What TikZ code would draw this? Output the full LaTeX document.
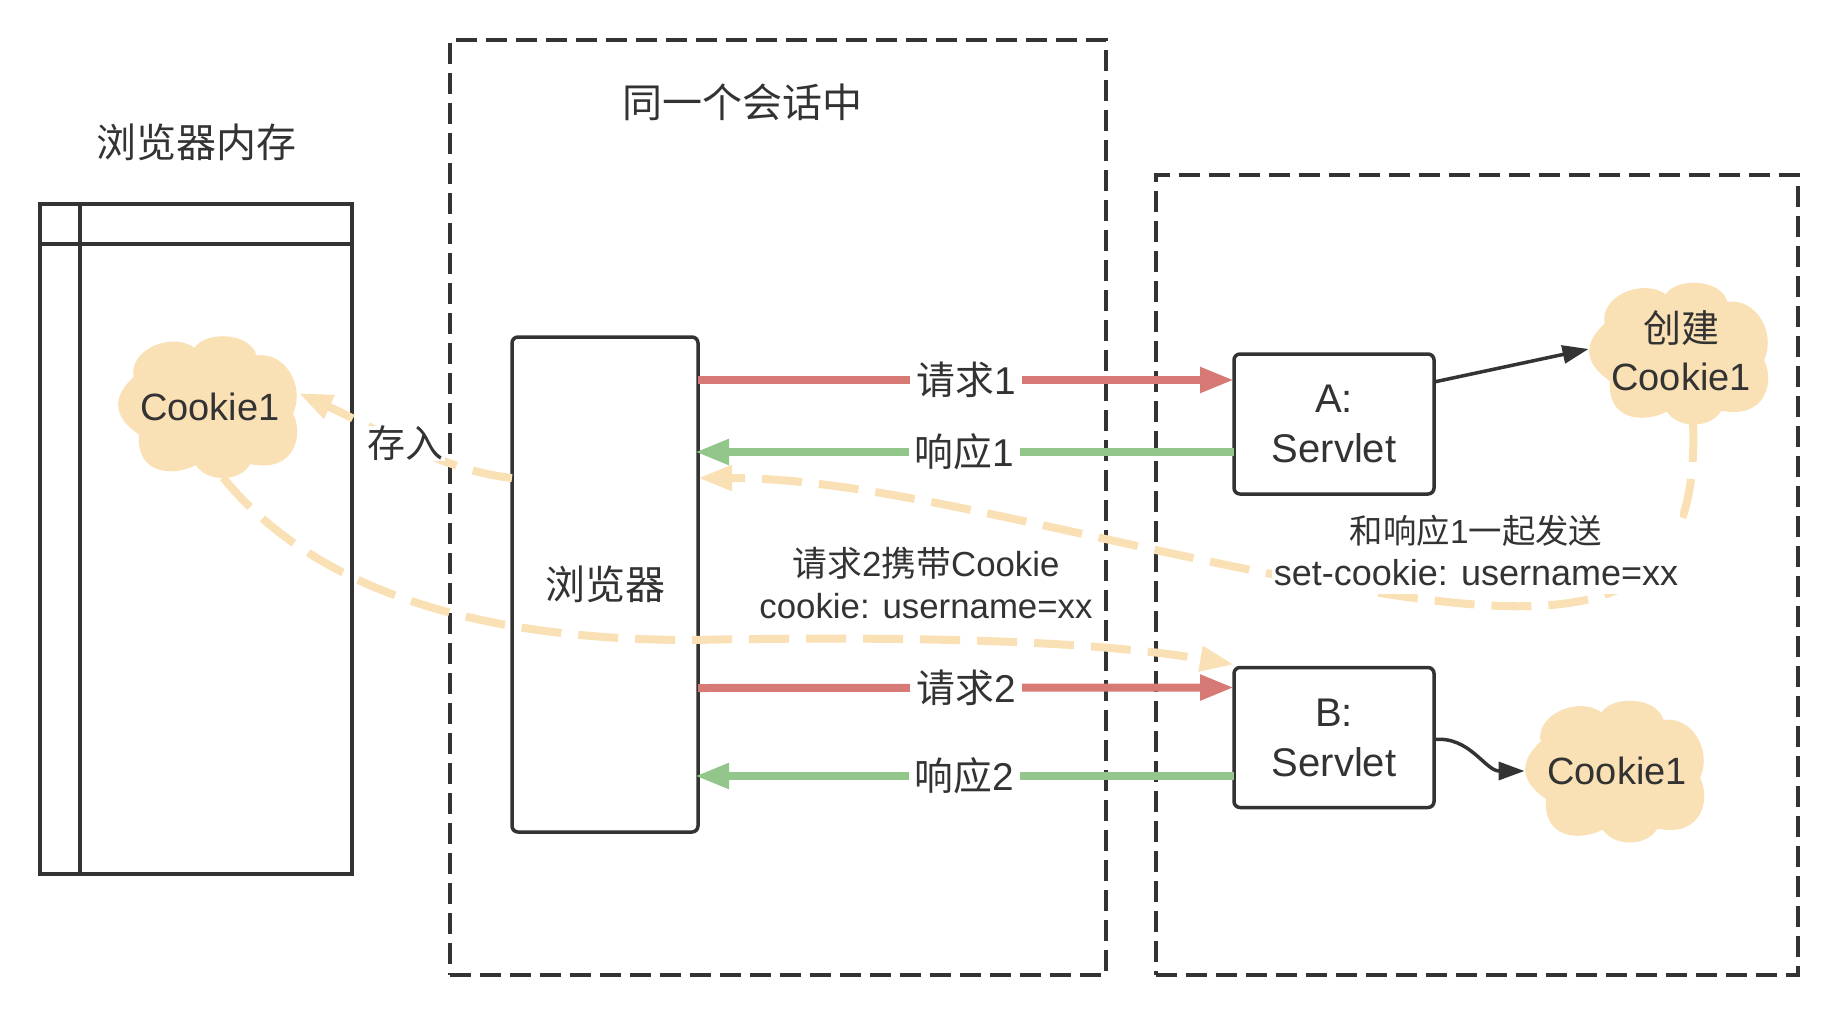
\documentclass[tikz,border=0pt]{standalone}
\usepackage{fontspec}
\setmainfont{Liberation Sans}
\newfontfamily\cjk{Noto Sans CJK SC}
\usetikzlibrary{arrows.meta}

\definecolor{ink}{HTML}{333333}
\definecolor{reqred}{HTML}{D77A76}
\definecolor{respgreen}{HTML}{92C68B}
\definecolor{cream}{HTML}{FAE0B5}

\begin{document}
\begin{tikzpicture}[
    x=0.5pt, y=-0.5pt,
    every node/.style={text=ink, inner sep=0pt, outer sep=0pt},
    bigtext/.style={font=\fontsize{20}{25}\selectfont, align=center},
    smalltext/.style={font=\fontsize{17.4}{21}\selectfont, align=center},
    memorybox/.style={rectangle, draw=ink, line width=1.75pt},
    groupbox/.style={rectangle, draw=ink, line width=1.9pt, dash pattern=on 10.5pt off 4.5pt},
    servletbox/.style={rectangle, draw=ink, line width=1.75pt, rounded corners=3pt, fill=white, bigtext},
    cookiecloud/.style={rectangle, font=\fontsize{19}{24}\selectfont, align=center, minimum width=90.5pt, minimum height=71pt},
    cloudpuff/.pic={\fill[cream, xshift=-45.25pt, yshift=35.5pt, x=0.905pt, y=-0.71pt]
            (42.6,8.7) .. controls (48,-3) and (73,-3) .. (76.8,14.1)
            .. controls (92,11) and (104,35) .. (97,55)
            .. controls (103,70) and (98,97) .. (73.3,90.6)
            .. controls (68,103) and (50,104) .. (43.2,91.3)
            .. controls (30,100) and (10,97) .. (11.9,69.8)
            .. controls (-4,56) and (-2,42) .. (8.9,29.3)
            .. controls (6,10) and (30,-3) .. (42.6,8.7) -- cycle;},
    linelabel/.style={font=\fontsize{19.4}{25}\selectfont, fill=white, inner xsep=3pt, inner ysep=1pt},
    request/.style={-{Triangle[length=17pt,width=12pt]}, reqred, line width=4pt},
    response/.style={-{Triangle[length=17pt,width=12pt]}, respgreen, line width=4pt},
    carry/.style={-{Triangle[length=17pt,width=12pt]}, cream, line width=4pt, dash pattern=on 20pt off 8.5pt},
    create/.style={-{Triangle[length=13pt,width=9pt]}, ink, line width=1.75pt}
]
\useasboundingbox (0,0) rectangle (1840,1022);

\node[groupbox, minimum width=328pt, minimum height=467.5pt] (SessionGroup) at (777.75,507.5) {};
\node[groupbox, minimum width=321pt, minimum height=400pt] (ServerGroup) at (1477,575) {};

\node[memorybox, minimum width=156pt, minimum height=335pt] (Memory) at (196,539) {};
\draw[ink, line width=1.75pt] ([xshift=20pt]Memory.north west) -- ([xshift=20pt]Memory.south west);
\draw[ink, line width=1.75pt] ([yshift=-20pt]Memory.north west) -- ([yshift=-20pt]Memory.north east);

\node[bigtext] (MemoryTitle) at (196,142) {\cjk 浏览器内存};
\node[bigtext] (SessionTitle) at (742,102) {\cjk 同一个会话中};

\node[servletbox, minimum width=93pt, minimum height=247.5pt] (Browser) at (605,584.5) {\cjk 浏览器};
\node[servletbox, minimum width=100pt, minimum height=70pt] (ServletA) at (1334,424) {A:\\Servlet};
\node[servletbox, minimum width=100pt, minimum height=70pt] (ServletB) at (1334,737.5) {B:\\Servlet};

\pic at (208,406.5) {cloudpuff};
\pic at (1679,353) {cloudpuff};
\pic at (1615,771) {cloudpuff};
\node[cookiecloud] (StoredCookie) at (210,406.5) {Cookie1};
\node[cookiecloud] (NewCookie) at (1681,351) {{\cjk 创建}\\Cookie1};
\node[cookiecloud] (SentCookie) at (1617,771) {Cookie1};

\draw[carry] ([xshift=6pt]NewCookie.south) .. controls (1700,600) and (1600,625) .. (1400,596)
    .. controls (1150,560) and (900,478) .. ([yshift=-70.5pt]Browser.north east);
\draw[carry] ([yshift=-70.5pt]Browser.north west) .. controls (440,470) and (380,430) .. ([xshift=-1pt,yshift=6.75pt]StoredCookie.east);
\draw[carry] ([xshift=6.5pt]StoredCookie.south) .. controls (290,560) and (420,640) .. (692,640)
    .. controls (900,636) and (1090,640) .. ([yshift=1.5pt]ServletB.north west);

\draw[request] ([yshift=-21.5pt]Browser.north east) -- node[linelabel] {{\cjk 请求}1} ([yshift=-13pt]ServletA.north west);
\draw[response] ([yshift=-14pt]ServletA.west) -- node[linelabel] {{\cjk 响应}1} ([xshift=-1.5pt,yshift=-57.5pt]Browser.north east);
\draw[request] ([yshift=-175.5pt]Browser.north east) -- node[linelabel] {{\cjk 请求}2} ([yshift=-10pt]ServletB.north west);
\draw[response] ([yshift=-19.25pt]ServletB.west) -- node[linelabel] {{\cjk 响应}2} ([xshift=-1.5pt,yshift=-219.5pt]Browser.north east);

\draw[create] ([yshift=21pt]ServletA.east) -- ([xshift=-1pt,yshift=1pt]NewCookie.west);
\draw[create] ([yshift=-1pt]ServletB.east) .. controls (1470,736) and (1485,771) .. ([xshift=-1pt]SentCookie.west);

\node[smalltext, fill=white, inner xsep=1pt] (StoreLabel) at (405,443.5) {\fontsize{19}{21}\selectfont\cjk 存入};
\node[smalltext, fill=white, inner xsep=1pt, inner ysep=4pt] (SetCookieLabel) at (1476,551) {\fontsize{16.7}{21}\selectfont{\cjk 和响应}1{\cjk 一起发送}\\\fontsize{18}{21}\selectfont set-cookie: username=xx};
\node[smalltext] (CarryLabel) at (926,583) {{\cjk 请求}2{\cjk 携带}Cookie\\cookie: username=xx};
\end{tikzpicture}
\end{document}
